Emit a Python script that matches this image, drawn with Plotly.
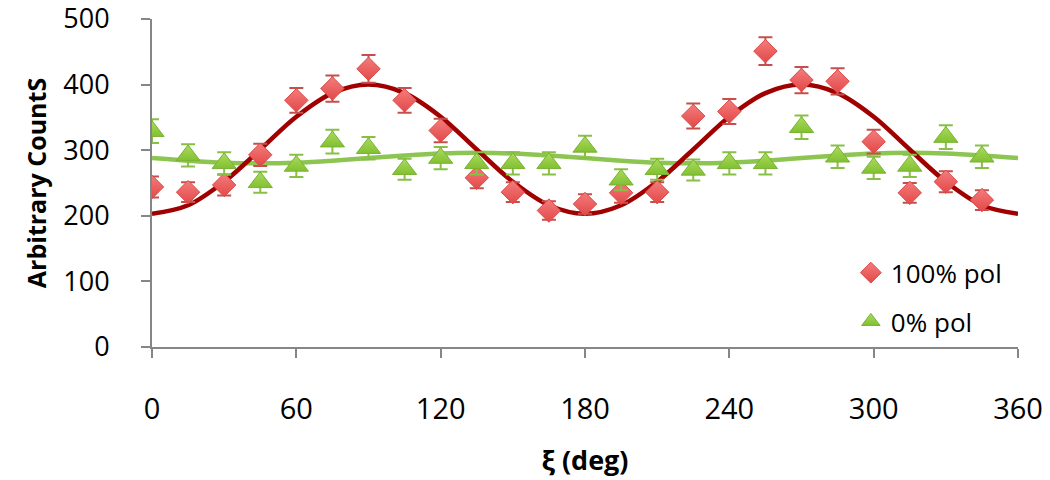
import plotly.graph_objects as go

# Measurement angles (deg)
xi = [0, 15, 30, 45, 60, 75, 90, 105, 120, 135, 150, 165,
      180, 195, 210, 225, 240, 255, 270, 285, 300, 315, 330, 345]

# 100% polarised counts and errors
pol100 = [244, 236, 247, 293, 376, 394, 424, 376, 330, 258, 236, 208,
          218, 235, 236, 352, 359, 451, 407, 405, 313, 235, 252, 224]
pol100_err = [16, 15, 16, 17, 19, 20, 21, 19, 18, 16, 15, 14,
              15, 15, 15, 19, 19, 21, 20, 20, 18, 15, 16, 15]

# 0% polarised counts and errors
pol0 = [329, 292, 280, 251, 276, 313, 303, 271, 288, 280, 280, 280,
        305, 255, 271, 270, 280, 280, 335, 290, 273, 276, 320, 290]
pol0_err = [18, 17, 17, 16, 17, 18, 17, 16, 17, 17, 17, 17,
            17, 16, 16, 16, 17, 17, 18, 17, 17, 17, 18, 17]

# Fit curves
fit_x = [0, 15, 30, 45, 60, 75, 90, 105, 120, 135, 150, 165, 180,
         195, 210, 225, 240, 255, 270, 285, 300, 315, 330, 345, 360]
fit100 = [203, 216, 252, 301, 351, 387, 400, 387, 351, 301, 252, 216, 203,
          216, 252, 301, 351, 387, 400, 387, 351, 301, 252, 216, 203]
fit0 = [288, 284, 281, 280, 281, 284, 288, 292, 295, 296, 295, 292, 288,
        284, 281, 280, 281, 284, 288, 292, 295, 296, 295, 292, 288]

FONT = "Open Sans"

fig = go.Figure()

fig.add_trace(go.Scatter(x=fit_x, y=fit0, mode="lines", line_shape="spline",
                         line=dict(color="#8dc552", width=4.5), showlegend=False,
                         hoverinfo="skip"))
fig.add_trace(go.Scatter(x=fit_x, y=fit100, mode="lines", line_shape="spline",
                         line=dict(color="#a00000", width=4.5), showlegend=False,
                         hoverinfo="skip"))

fig.add_trace(go.Scatter(
    x=xi, y=pol100, mode="markers", name="100% pol", legendgroup="a",
    error_y=dict(type="data", array=pol100_err, visible=True,
                 color="#c4504d", thickness=2, width=7),
    marker=dict(symbol="diamond", size=18, color="#f47c7c",
                gradient=dict(type="vertical", color="#e34848"),
                line=dict(color="#d84a48", width=1)),
))
fig.add_trace(go.Scatter(
    x=xi, y=pol0, mode="markers", name="0% pol", legendgroup="b",
    error_y=dict(type="data", array=pol0_err, visible=True,
                 color="#88c046", thickness=2, width=7),
    marker=dict(symbol="triangle-up", size=21, color="#a9db5e",
                gradient=dict(type="vertical", color="#82c030"),
                line=dict(color="#7ab233", width=1)),
))

fig.update_layout(
    width=1050, height=480,
    paper_bgcolor="white", plot_bgcolor="white",
    margin=dict(l=152, r=32, t=19, b=133, autoexpand=False),
    font=dict(family=FONT, size=24, color="#000000"),
    legend=dict(x=0.807, y=0.298, xanchor="left", yanchor="top",
                bgcolor="rgba(0,0,0,0)", font=dict(size=26, family=FONT),
                tracegroupgap=12, itemwidth=30),
)
fig.update_xaxes(
    range=[0, 360], tickmode="linear", tick0=0, dtick=60,
    showline=True, linecolor="#868686", linewidth=2,
    ticks="outside", ticklen=9, tickwidth=2, tickcolor="#868686",
    ticklabelstandoff=26, showgrid=False, zeroline=False, automargin=False,
    ticklabeloverflow="allow",
    tickfont=dict(size=29, family=FONT),
    title=dict(text="<b>ξ (deg)</b>", font=dict(size=27, family=FONT), standoff=25),
)
fig.update_yaxes(
    range=[0, 500], tickmode="linear", tick0=0, dtick=100,
    showline=True, linecolor="#868686", linewidth=2,
    ticks="outside", ticklen=9, tickwidth=2, tickcolor="#868686",
    ticklabelstandoff=26, showgrid=False, zeroline=False, automargin=False,
    ticklabeloverflow="allow",
    tickfont=dict(size=27, family=FONT),
    title=dict(text="<b>Arbitrary CountS</b>", font=dict(size=25, family=FONT), standoff=10),
)

# remove the browser's default 8px body margin so the figure fills the window
fig.write_html("out.html",
               config={"displayModeBar": False},
               post_script="document.body.style.margin='0';document.body.style.overflow='hidden';")
